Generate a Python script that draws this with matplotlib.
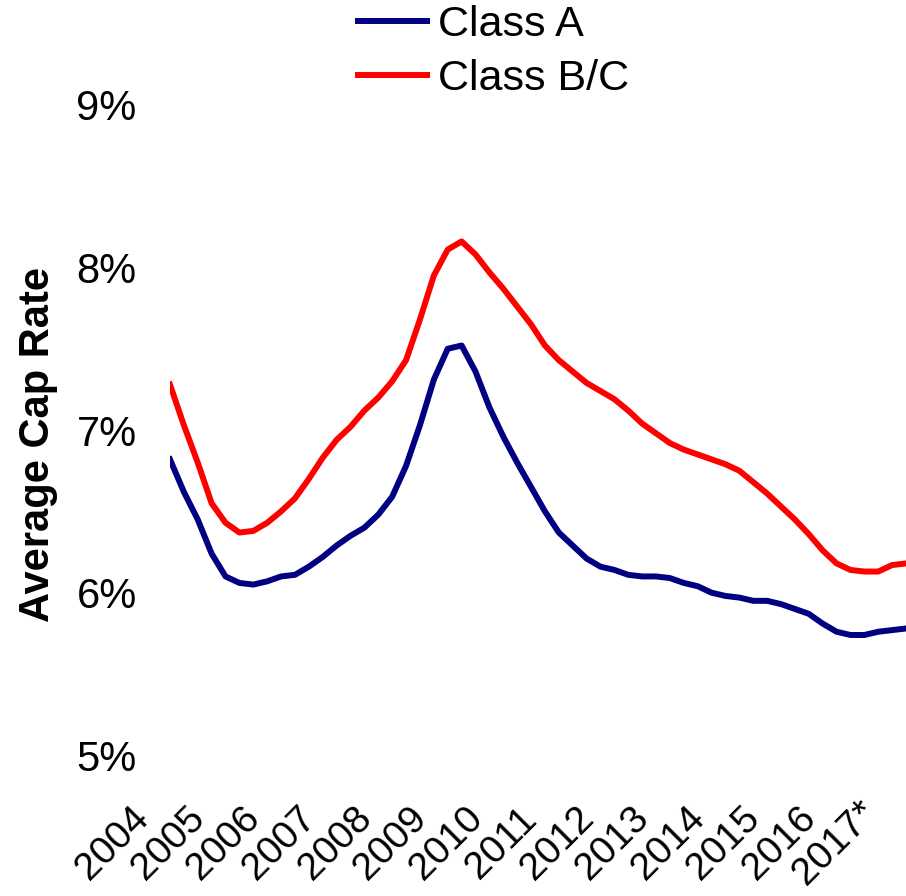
import matplotlib.pyplot as plt
import matplotlib.transforms as mtransforms
import numpy as np

plt.rcParams['font.family'] = ['Liberation Sans', 'DejaVu Sans']

# quarterly average cap rates, 2004 Q1 .. 2017 Q2
class_a = [6.82, 6.62, 6.45, 6.24, 6.10, 6.06, 6.05, 6.07, 6.10, 6.11,
           6.16, 6.22, 6.29, 6.35, 6.40, 6.48, 6.59, 6.78, 7.03, 7.31,
           7.50, 7.52, 7.36, 7.14, 6.96, 6.80, 6.65, 6.50, 6.37, 6.29,
           6.21, 6.16, 6.14, 6.11, 6.10, 6.10, 6.09, 6.06, 6.04, 6.00,
           5.98, 5.97, 5.95, 5.95, 5.93, 5.90, 5.87, 5.81, 5.76, 5.74,
           5.74, 5.76, 5.77, 5.78]
class_bc = [7.28, 7.03, 6.80, 6.55, 6.43, 6.37, 6.38, 6.43, 6.50, 6.58,
            6.70, 6.83, 6.94, 7.02, 7.12, 7.20, 7.30, 7.43, 7.68, 7.95,
            8.11, 8.16, 8.08, 7.97, 7.87, 7.76, 7.65, 7.52, 7.43, 7.36,
            7.29, 7.24, 7.19, 7.12, 7.04, 6.98, 6.92, 6.88, 6.85, 6.82,
            6.79, 6.75, 6.68, 6.61, 6.53, 6.45, 6.36, 6.26, 6.18, 6.14,
            6.13, 6.13, 6.17, 6.18]
year_labels = ['2004', '2005', '2006', '2007', '2008', '2009', '2010',
               '2011', '2012', '2013', '2014', '2015', '2016', '2017*']
y_ticks = [5, 6, 7, 8, 9]

x = np.arange(len(class_a))

fig = plt.figure(figsize=(9.06, 8.96), dpi=100)
ax = fig.add_axes([0.1876, 0.157, 0.8124, 0.726])

ax.plot(x, class_a, color='#000080', lw=4.3, label='Class A')
ax.plot(x, class_bc, color='#FF0000', lw=4.3, label='Class B/C')

ax.set_xlim(0, 53)
ax.set_ylim(5, 9)
ax.set_yticks(y_ticks)
ax.set_yticklabels([f'{v}%' for v in y_ticks], fontsize=30)
ax.set_xticks(np.arange(0, 53, 4))
ax.set_xticklabels(year_labels, fontsize=28, rotation=45, ha='center',
                   va='center', rotation_mode='anchor')
ax.tick_params(axis='y', length=0, pad=24)
ax.tick_params(axis='x', length=0, pad=0)
# shift the rotated year labels down-left like the original
shift = mtransforms.ScaledTranslation(-0.57, -0.88, fig.dpi_scale_trans)
for lbl in ax.get_xticklabels():
    lbl.set_transform(lbl.get_transform() + shift)
for s in ax.spines.values():
    s.set_visible(False)

ax.set_ylabel('Average Cap Rate', fontsize=30, fontweight='bold')
ax.yaxis.set_label_coords(-0.152, 0.478)

fig.legend(loc='upper left', bbox_to_anchor=(0.395, 0.994), frameon=False,
           fontsize=31, handlelength=1.6, handletextpad=0.26,
           labelspacing=0.31, borderpad=0, borderaxespad=0)

fig.savefig('out.png', dpi=100)
